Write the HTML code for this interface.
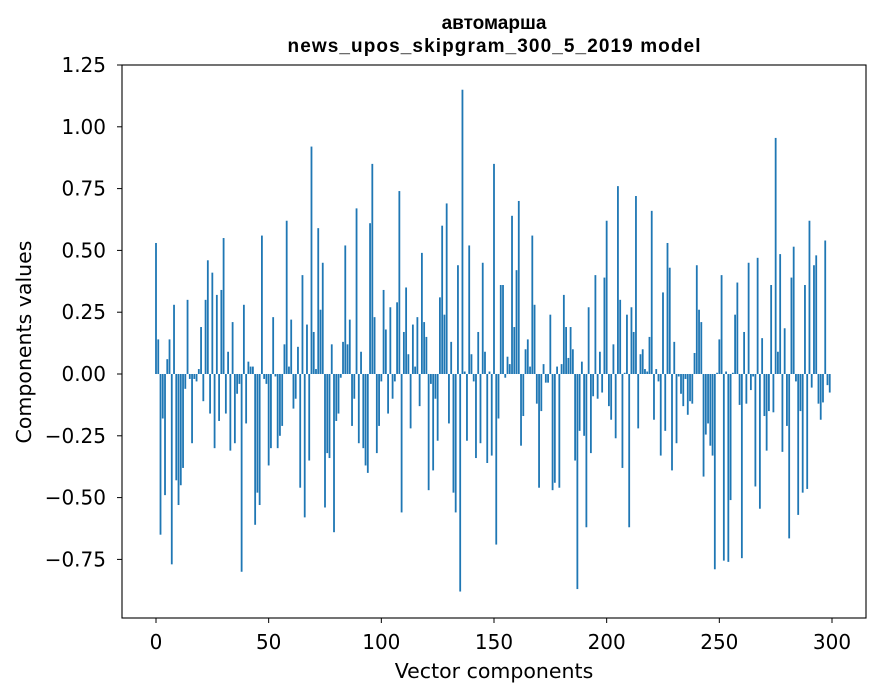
<!DOCTYPE html>
<html><head><meta charset="utf-8"><style>
body{margin:0;background:#fff;}
svg{display:block;font-family:"DejaVu Sans","Liberation Sans",sans-serif;}
</style></head><body>
<svg id="chart" width="880" height="696" viewBox="0 0 880 696">
<rect x="0" y="0" width="880" height="696" fill="#fff"/>
<text x="494" y="29" text-anchor="middle" font-size="19" font-weight="bold" font-family="Liberation Sans, sans-serif">автомарша</text>
<text x="494" y="52" text-anchor="middle" font-size="19" font-weight="bold" font-family="Liberation Sans, sans-serif" textLength="413" lengthAdjust="spacing">news_upos_skipgram_300_5_2019 model</text>
<g id="bars"></g>
<g id="xticks"></g>
<g id="yticks"></g>
<rect x="122" y="65" width="744" height="553" fill="none" stroke="#000" stroke-width="1.1"/>
<text x="494" y="678" text-anchor="middle" font-size="20.5">Vector components</text>
<text transform="translate(31,342) rotate(-90)" text-anchor="middle" font-size="20.5">Components values</text>
</svg>
<script>
const values = [
0.53,0.14,-0.65,-0.18,-0.49,0.06,0.14,-0.77,0.28,-0.43,
-0.53,-0.45,-0.38,-0.06,0.30,-0.02,-0.28,-0.02,-0.03,0.02,
0.19,-0.11,0.30,0.46,-0.16,0.41,-0.30,0.32,-0.19,0.34,
0.55,-0.16,0.09,-0.31,0.21,-0.28,-0.08,-0.04,-0.80,0.28,
-0.20,0.05,0.03,0.03,-0.61,-0.48,-0.53,0.56,-0.02,-0.04,
-0.37,-0.30,0.23,-0.01,-0.30,-0.25,-0.21,0.12,0.62,0.03,
0.22,-0.14,-0.10,0.11,-0.46,0.40,-0.58,0.20,-0.35,0.92,
0.17,0.02,0.59,0.26,0.45,-0.54,-0.32,-0.34,0.12,-0.64,
-0.19,-0.16,-0.015,0.13,0.52,0.12,0.22,-0.21,-0.10,0.67,
-0.28,0.09,-0.30,-0.37,-0.40,0.61,0.85,0.23,-0.32,-0.21,
-0.03,0.34,0.18,-0.16,0.27,-0.10,-0.03,0.29,0.74,-0.56,
0.17,0.35,0.08,-0.22,0.20,0.03,0.23,-0.13,0.49,0.21,
0.15,-0.47,-0.04,-0.39,-0.10,-0.27,0.31,0.60,0.24,0.69,
-0.20,0.13,-0.48,-0.56,0.44,-0.88,1.15,0.01,-0.27,0.52,
0.08,-0.03,-0.34,0.17,-0.28,0.45,0.09,-0.36,0.01,-0.33,
0.85,-0.69,-0.18,0.36,0.36,-0.015,0.07,0.04,0.64,0.19,
0.42,0.70,-0.29,-0.17,0.10,0.14,0.03,0.56,0.28,-0.12,
-0.46,-0.15,0.04,-0.035,-0.035,0.24,-0.47,-0.44,0.03,-0.46,
0.04,0.32,0.19,0.065,0.19,0.10,-0.35,-0.87,-0.23,0.05,
-0.25,-0.62,0.27,-0.32,-0.09,0.40,-0.10,0.09,-0.075,0.39,
0.62,-0.13,-0.185,0.12,-0.26,0.76,0.30,-0.38,0.005,0.24,
-0.62,0.27,0.17,0.72,-0.22,0.08,0.10,0.02,0.01,0.15,
0.66,-0.185,0.02,-0.03,-0.33,0.33,-0.23,0.53,0.43,-0.39,
0.13,-0.28,-0.01,-0.08,-0.13,-0.02,-0.165,-0.11,-0.12,0.085,
0.44,0.26,0.21,-0.415,-0.245,-0.20,-0.29,-0.33,-0.79,0.005,
0.14,0.40,-0.755,0.01,-0.76,-0.51,0.005,0.24,0.37,-0.125,
-0.745,0.17,-0.12,0.45,-0.065,-0.01,-0.455,0.47,-0.545,0.145,
-0.17,-0.31,-0.15,0.36,-0.155,0.955,0.09,0.485,-0.315,0.185,
-0.21,-0.665,0.39,0.515,-0.03,-0.57,-0.15,-0.48,0.36,-0.465,
0.62,-0.055,0.44,0.48,-0.12,-0.185,-0.115,0.54,-0.045,-0.075
];
const xTicks = [0,50,100,150,200,250,300];
const yTicks = [-0.75,-0.50,-0.25,0.00,0.25,0.50,0.75,1.00,1.25];
const yTickLabels = ["−0.75","−0.50","−0.25","0.00","0.25","0.50","0.75","1.00","1.25"];

const NS = "http://www.w3.org/2000/svg";
const xs = v => 156 + v * 2.2533;
const ys = v => 374 - v * 247.2;

const barsG = document.getElementById('bars');
values.forEach((v, i) => {
  const r = document.createElementNS(NS, 'rect');
  const x0 = xs(i - 0.4), x1 = xs(i + 0.4);
  const y0 = ys(Math.max(v, 0)), y1 = ys(Math.min(v, 0));
  r.setAttribute('x', x0);
  r.setAttribute('width', x1 - x0);
  r.setAttribute('y', y0);
  r.setAttribute('height', Math.max(y1 - y0, 0.01));
  r.setAttribute('fill', '#1f77b4');
  
  
  barsG.appendChild(r);
});

const xg = document.getElementById('xticks');
xTicks.forEach(t => {
  const l = document.createElementNS(NS, 'line');
  l.setAttribute('x1', xs(t)); l.setAttribute('x2', xs(t));
  l.setAttribute('y1', 618); l.setAttribute('y2', 623);
  l.setAttribute('stroke', '#000');
  
  
  xg.appendChild(l);
  const tx = document.createElementNS(NS, 'text');
  tx.setAttribute('x', xs(t)); tx.setAttribute('y', 649);
  tx.setAttribute('text-anchor', 'middle');
  tx.setAttribute('font-size', '20');
  tx.textContent = t;
  
  
  xg.appendChild(tx);
});

const yg = document.getElementById('yticks');
yTicks.forEach((t, k) => {
  const l = document.createElementNS(NS, 'line');
  l.setAttribute('x1', 117); l.setAttribute('x2', 122);
  l.setAttribute('y1', ys(t)); l.setAttribute('y2', ys(t));
  l.setAttribute('stroke', '#000');
  
  
  yg.appendChild(l);
  const tx = document.createElementNS(NS, 'text');
  tx.setAttribute('x', 106); tx.setAttribute('y', ys(t) + 7);
  tx.setAttribute('text-anchor', 'end');
  tx.setAttribute('font-size', '20');
  tx.textContent = yTickLabels[k];
  
  
  yg.appendChild(tx);
});
</script>
</body></html>
